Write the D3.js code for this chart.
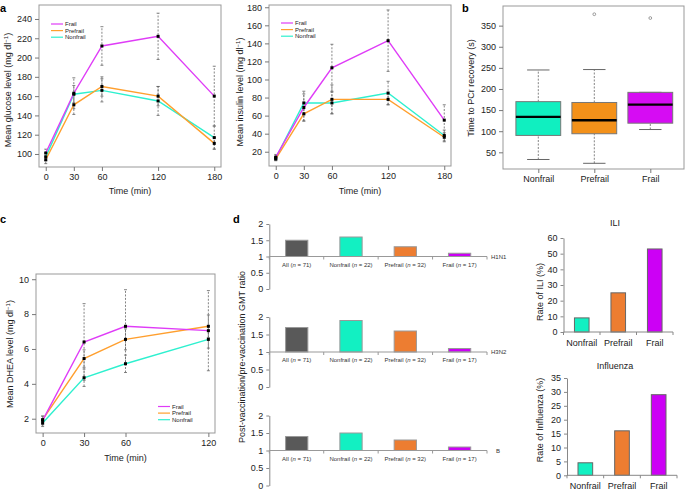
<!DOCTYPE html>
<html><head><meta charset="utf-8">
<script src="https://cdn.jsdelivr.net/npm/d3@7"></script>
<style>body{margin:0;background:#fff} svg{display:block} text{font-family:"Liberation Sans",Arial,Helvetica,sans-serif}</style>
</head><body><svg id="c" width="685" height="491"></svg>
<script>
// ---------- DATA ----------
const groups = ["Frail", "Prefrail", "Nonfrail"];
const times = [0, 30, 60, 120, 180];
const timesDHEA = [0, 30, 60, 120];
const timeTicks = [0, 30, 60, 120, 180];
const timeTicksDHEA = [0, 30, 60, 120];

const glucoseFrail = [101, 163, 212, 222, 160];
const glucosePrefrail = [94, 151, 170, 160, 111];
const glucoseNonfrail = [97, 162, 166, 155, 117];
const glucoseErrFrail = [4, 16, 20, 24, 31];
const glucoseErrPrefrail = [4, 10, 10, 10, 6];
const glucoseErrNonfrail = [4, 9, 12, 15, 12];
const glucoseTicks = [100, 120, 140, 160, 180, 200, 220, 240];

const insulinFrail = [14, 69, 113, 143, 55];
const insulinPrefrail = [12, 62, 78, 78, 36];
const insulinNonfrail = [13, 74, 74, 85, 38];
const insulinErrFrail = [3, 15, 26, 34, 17];
const insulinErrPrefrail = [2, 8, 16, 6, 5];
const insulinErrNonfrail = [2, 13, 12, 13, 6];
const insulinTicks = [20, 40, 60, 80, 100, 120, 140, 160, 180];

const dheaFrail = [1.9, 6.4, 7.3, 7.05];
const dheaPrefrail = [1.95, 5.45, 6.55, 7.3];
const dheaNonfrail = [1.75, 4.35, 5.15, 6.55];
const dheaErrFrail = [0.25, 2.2, 2.1, 2.3];
const dheaErrPrefrail = [0.2, 0.5, 0.6, 0.65];
const dheaErrNonfrail = [0.2, 0.5, 0.5, 0.5];
const dheaTicks = [2, 4, 6, 8, 10];

const boxCats = ["Nonfrail", "Prefrail", "Frail"];
const boxLowWhisker = [33, 24, 104];
const boxQ1 = [90, 94, 119];
const boxMedian = [134, 126, 163];
const boxQ3 = [170, 168, 192];
const boxHighWhisker = [245, 246, 192];
const boxOutliers = [[], [377], [368]];
const boxTicks = [50, 100, 150, 200, 250, 300, 350];

const vaccineCats = ["All", "Nonfrail", "Prefrail", "Frail"];
const vaccineN = [71, 22, 32, 17];
const strains = ["H1N1", "H3N2", "B"];
const gmtH1N1 = [1.5, 1.6, 1.3, 1.1];
const gmtH3N2 = [1.7, 1.9, 1.6, 1.1];
const gmtB = [1.4, 1.5, 1.3, 1.1];
const gmtTicks = [0, 0.5, 1, 1.5, 2];

const rateCats = ["Nonfrail", "Prefrail", "Frail"];
const iliRate = [9, 25, 53];
const influenzaRate = [4.5, 16, 29];
const iliTicks = [0, 10, 20, 30, 40, 50, 60];
const influenzaTicks = [0, 5, 10, 15, 20, 25, 30, 35];

// ---------- STYLE ----------
const lineColor = {Frail: "#DF3CF7", Prefrail: "#FF9F2E", Nonfrail: "#2EF0CF"};
const boxColor = {Nonfrail: "#10EFC0", Prefrail: "#F3911A", Frail: "#D60CF3"};
const barColor = {All: "#595959", Nonfrail: "#12F0C2", Prefrail: "#ED7D31", Frail: "#CC00F5"};
const FONT = '"Liberation Sans",Arial,Helvetica,sans-serif';

const svg = d3.select("#c");

function panelLabel(t, x, y) {
  svg.append("text").attr("x", x).attr("y", y).text(t)
    .attr("font-size", 11).attr("font-weight", "bold").attr("fill", "#000");
}

function styleAxis(g) {
  g.select(".domain").remove();
  g.selectAll(".tick line").attr("stroke", "#777");
  g.selectAll(".tick text").attr("font-size", 9).attr("fill", "#222").attr("font-family", FONT);
}

function yTitle(x, cy, main, sup, tail) {
  const t = svg.append("text").attr("transform", `translate(${x},${cy}) rotate(-90)`)
    .attr("text-anchor", "middle").attr("font-size", 9).attr("fill", "#222");
  t.append("tspan").text(main);
  if (sup) {
    t.append("tspan").attr("dy", -3.5).attr("font-size", 6).text(sup);
    t.append("tspan").attr("dy", 3.5).text(tail);
  }
}

function linePanel(o) {
  const x = d3.scaleLinear().domain(o.xDomain).range([o.left, o.right]);
  const y = d3.scaleLinear().domain(o.yDomain).range([o.bottom, o.top]);
  const g = svg.append("g");
  g.append("rect").attr("x", o.left).attr("y", o.top).attr("width", o.right - o.left)
    .attr("height", o.bottom - o.top).attr("fill", "none").attr("stroke", "#999");
  g.append("g").attr("transform", `translate(0,${o.bottom})`)
    .call(d3.axisBottom(x).tickValues(o.xTicks).tickSize(4).tickPadding(3)).call(styleAxis);
  g.append("g").attr("transform", `translate(${o.left},0)`)
    .call(d3.axisLeft(y).tickValues(o.yTicks).tickSize(4).tickPadding(3)).call(styleAxis);
  // error bars
  o.series.forEach(s => {
    s.values.forEach((v, i) => {
      const e = s.err[i], cx = x(o.times[i]);
      g.append("line").attr("x1", cx).attr("x2", cx).attr("y1", y(v - e)).attr("y2", y(v + e))
        .attr("stroke", "#666").attr("stroke-width", 0.8).attr("stroke-dasharray", "2,1.5");
      [v - e, v + e].forEach(w => g.append("line").attr("x1", cx - 1.5).attr("x2", cx + 1.5)
        .attr("y1", y(w)).attr("y2", y(w)).attr("stroke", "#666").attr("stroke-width", 0.8));
    });
  });
  const line = d3.line().x((d, i) => x(o.times[i])).y(d => y(d));
  o.series.slice().reverse().forEach(s => {
    g.append("path").attr("d", line(s.values)).attr("fill", "none")
      .attr("stroke", lineColor[s.name]).attr("stroke-width", 1.4);
  });
  o.series.forEach(s => {
    s.values.forEach((v, i) => g.append("rect").attr("x", x(o.times[i]) - 1.5).attr("y", y(v) - 1.5)
      .attr("width", 3).attr("height", 3).attr("fill", "#000"));
  });
  // legend
  o.series.forEach((s, i) => {
    const ly = o.legY + i * 6.6;
    g.append("line").attr("x1", o.legX).attr("x2", o.legX + 12).attr("y1", ly).attr("y2", ly)
      .attr("stroke", lineColor[s.name]).attr("stroke-width", 1.2);
    g.append("text").attr("x", o.legX + 14).attr("y", ly + 2).attr("font-size", 6).attr("fill", "#222").text(s.name);
  });
  svg.append("text").attr("x", (x(o.xTicks[0]) + x(o.xTicks[o.xTicks.length - 1])) / 2).attr("y", o.xTitleY)
    .attr("text-anchor", "middle").attr("font-size", 9).attr("fill", "#222").text("Time (min)");
}

// ---------- PANEL a ----------
panelLabel("a", 0, 12);
linePanel({
  left: 39, right: 221, top: 5, bottom: 167, xDomain: [-7.2, 187.2], yDomain: [86.5, 254.5],
  xTicks: timeTicks, yTicks: glucoseTicks, times: times, xTitleY: 194, legX: 51, legY: 24,
  series: [
    {name: "Frail", values: glucoseFrail, err: glucoseErrFrail},
    {name: "Prefrail", values: glucosePrefrail, err: glucoseErrPrefrail},
    {name: "Nonfrail", values: glucoseNonfrail, err: glucoseErrNonfrail}
  ]
});
yTitle(11, 90, "Mean glucose level (mg dl", "\u22121", ")");

linePanel({
  left: 269, right: 451, top: 5, bottom: 166, xDomain: [-7.2, 187.2], yDomain: [4.2, 182.5],
  xTicks: timeTicks, yTicks: insulinTicks, times: times, xTitleY: 194, legX: 281, legY: 23,
  series: [
    {name: "Frail", values: insulinFrail, err: insulinErrFrail},
    {name: "Prefrail", values: insulinPrefrail, err: insulinErrPrefrail},
    {name: "Nonfrail", values: insulinNonfrail, err: insulinErrNonfrail}
  ]
});
yTitle(243, 92, "Mean insulin level (mg dl", "\u22121", ")");

// ---------- PANEL c ----------
panelLabel("c", 0, 223);
linePanel({
  left: 36, right: 215, top: 274, bottom: 433, xDomain: [-4.8, 124.8], yDomain: [1.18, 10.3],
  xTicks: timeTicksDHEA, yTicks: dheaTicks, times: timesDHEA, xTitleY: 461, legX: 158, legY: 406.5,
  series: [
    {name: "Frail", values: dheaFrail, err: dheaErrFrail},
    {name: "Prefrail", values: dheaPrefrail, err: dheaErrPrefrail},
    {name: "Nonfrail", values: dheaNonfrail, err: dheaErrNonfrail}
  ]
});
yTitle(13, 354, "Mean DHEA level (mg dl", "\u22121", ")");

// ---------- PANEL b ----------
panelLabel("b", 462, 12);
(function () {
  const left = 503, right = 684, top = 6, bottom = 169;
  const x = d3.scaleLinear().domain([1, 3]).range([538.3, 650.3]);
  const y = d3.scaleLinear().domain([10.5, 396.5]).range([bottom, top]);
  const g = svg.append("g");
  g.append("rect").attr("x", left).attr("y", top).attr("width", right - left).attr("height", bottom - top)
    .attr("fill", "none").attr("stroke", "#999");
  g.append("g").attr("transform", `translate(0,${bottom})`)
    .call(d3.axisBottom(x).tickValues([1, 2, 3]).tickFormat((d, i) => boxCats[i]).tickSize(4).tickPadding(3)).call(styleAxis);
  g.append("g").attr("transform", `translate(${left},0)`)
    .call(d3.axisLeft(y).tickValues(boxTicks).tickSize(4).tickPadding(3)).call(styleAxis);
  const hw = 22.4, cw = 11.2;
  boxCats.forEach((c, i) => {
    const cx = x(i + 1);
    [[boxLowWhisker[i], boxQ1[i]], [boxQ3[i], boxHighWhisker[i]]].forEach(([a, b]) => {
      if (a !== b) g.append("line").attr("x1", cx).attr("x2", cx).attr("y1", y(a)).attr("y2", y(b))
        .attr("stroke", "#666").attr("stroke-width", 0.8).attr("stroke-dasharray", "2,1.5");
    });
    [boxLowWhisker[i], boxHighWhisker[i]].forEach(w => g.append("line").attr("x1", cx - cw).attr("x2", cx + cw)
      .attr("y1", y(w)).attr("y2", y(w)).attr("stroke", "#666").attr("stroke-width", 1));
    g.append("rect").attr("x", cx - hw).attr("y", y(boxQ3[i])).attr("width", hw * 2)
      .attr("height", y(boxQ1[i]) - y(boxQ3[i])).attr("fill", boxColor[c]).attr("stroke", "#777").attr("stroke-width", 1);
    g.append("line").attr("x1", cx - hw).attr("x2", cx + hw).attr("y1", y(boxMedian[i])).attr("y2", y(boxMedian[i]))
      .attr("stroke", "#000").attr("stroke-width", 2.4);
    boxOutliers[i].forEach(v => g.append("circle").attr("cx", cx).attr("cy", y(v)).attr("r", 1.4)
      .attr("fill", "none").attr("stroke", "#777").attr("stroke-width", 0.7));
  });
  yTitle(474, 88, "Time to PCr recovery (s)");
})();

// ---------- PANEL d ----------
panelLabel("d", 233, 223);
(function () {
  const left = 269.3, right = 487;
  const x = d3.scaleBand().domain(vaccineCats).range([left, right]).paddingInner(0.59).paddingOuter(0.3);
  const step = (right - left) / vaccineCats.length;
  const subs = [
    {name: strains[0], values: gmtH1N1, top: 224, bottom: 289},
    {name: strains[1], values: gmtH3N2, top: 317, bottom: 387},
    {name: strains[2], values: gmtB, top: 415.5, bottom: 485.5}
  ];
  subs.forEach(s => {
    const y = d3.scaleLinear().domain([0, 2]).range([s.bottom, s.top]);
    const g = svg.append("g");
    const ya = g.append("g").attr("transform", `translate(${left},0)`)
      .call(d3.axisLeft(y).tickValues(gmtTicks).tickFormat(d => String(d)).tickSize(3).tickSizeOuter(0).tickPadding(3));
    ya.select(".domain").attr("stroke", "#888");
    ya.selectAll(".tick line").attr("stroke", "#888");
    ya.selectAll(".tick text").attr("font-size", 9).attr("fill", "#222");
    s.values.forEach((v, i) => {
      const c = vaccineCats[i];
      g.append("rect").attr("x", x(c)).attr("y", y(v)).attr("width", x.bandwidth()).attr("height", y(1) - y(v))
        .attr("fill", barColor[c]).attr("stroke", "#999").attr("stroke-width", 1);
      const t = g.append("text").attr("x", x(c) + x.bandwidth() / 2).attr("y", y(1) + 10)
        .attr("text-anchor", "middle").attr("font-size", 6).attr("fill", "#333");
      t.append("tspan").text(c + " (");
      t.append("tspan").attr("font-style", "italic").text("n");
      t.append("tspan").text(" = " + vaccineN[i] + ")");
    });
    g.append("line").attr("x1", left).attr("x2", right).attr("y1", y(1)).attr("y2", y(1)).attr("stroke", "#999");
    d3.range(vaccineCats.length + 1).forEach(k => g.append("line").attr("x1", left + k * step).attr("x2", left + k * step)
      .attr("y1", y(1)).attr("y2", y(1) + 3).attr("stroke", "#999"));
    g.append("text").attr("x", s.name === "B" ? 496 : 491).attr("y", y(1) + 2).attr("font-size", 6).attr("fill", "#333").text(s.name);
  });
  yTitle(245, 357, "Post-vaccination/pre-vaccination GMT ratio");
})();

function ratePanel(o) {
  const x = d3.scaleBand().domain(rateCats).range([o.left, o.right]).paddingInner(0.6).paddingOuter(0.3);
  const y = d3.scaleLinear().domain(o.yDomain).range([o.bottom, o.top]);
  const g = svg.append("g");
  const ya = g.append("g").attr("transform", `translate(${o.left},0)`)
    .call(d3.axisLeft(y).tickValues(o.yTicks).tickSize(3).tickSizeOuter(0).tickPadding(3));
  ya.select(".domain").attr("stroke", "#888");
  ya.selectAll(".tick line").attr("stroke", "#888");
  ya.selectAll(".tick text").attr("font-size", 9).attr("fill", "#222");
  o.values.forEach((v, i) => {
    const c = rateCats[i];
    g.append("rect").attr("x", x(c)).attr("y", y(v)).attr("width", x.bandwidth()).attr("height", y(0) - y(v))
      .attr("fill", barColor[c]).attr("stroke", "#666").attr("stroke-width", 1);
    g.append("text").attr("x", x(c) + x.bandwidth() / 2).attr("y", o.labelY).attr("text-anchor", "middle")
      .attr("font-size", 9).attr("fill", "#222").text(c);
  });
  const step = (o.right - o.left) / rateCats.length;
  g.append("line").attr("x1", o.left).attr("x2", o.right).attr("y1", y(0)).attr("y2", y(0)).attr("stroke", "#888");
  d3.range(rateCats.length + 1).forEach(k => g.append("line").attr("x1", o.left + k * step).attr("x2", o.left + k * step)
    .attr("y1", y(0)).attr("y2", y(0) + 3).attr("stroke", "#888"));
  svg.append("text").attr("x", o.titleX).attr("y", o.titleY).attr("text-anchor", "middle")
    .attr("font-size", 9).attr("fill", "#222").text(o.title);
  yTitle(o.yTitleX, o.yTitleY, o.yTitle);
}

ratePanel({left: 563.5, right: 673, top: 238, bottom: 332, yDomain: [0, 60], yTicks: iliTicks, values: iliRate,
  labelY: 345.5, title: "ILI", titleX: 615, titleY: 226, yTitle: "Rate of ILI (%)", yTitleX: 543, yTitleY: 292});
ratePanel({left: 567, right: 677, top: 378, bottom: 475.3, yDomain: [0, 35], yTicks: influenzaTicks, values: influenzaRate,
  labelY: 488.5, title: "Influenza", titleX: 615, titleY: 369, yTitle: "Rate of Influenza (%)", yTitleX: 543, yTitleY: 420});
</script>
</body></html>
